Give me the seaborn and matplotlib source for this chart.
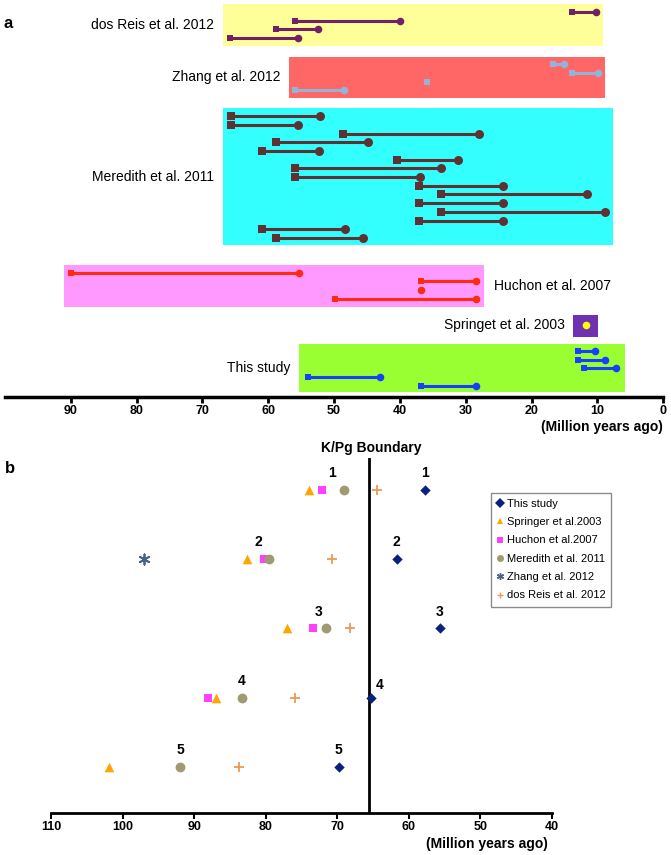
import numpy as np
import pandas as pd
import seaborn as sns
import matplotlib.pyplot as plt
from matplotlib.patches import Rectangle
from matplotlib.lines import Line2D

# ---- panel a: divergence time ranges (Million years ago) ----
# older bound is drawn as a square, younger bound as a circle, one row per estimate
dosreis_rows = [0, 1, 2, 3]
dosreis_old = [13.8, 56.0, 58.9, 65.8]
dosreis_young = [10.2, 40.0, 52.5, 55.5]

zhang_rows = [6, 7, 8, 9]
zhang_old = [16.8, 13.8, 35.9, 55.9]
zhang_young = [15.0, 9.9, np.nan, 48.5]

meredith_rows = list(range(12, 27))
meredith_old = [65.7, 65.7, 48.7, 58.8, 61.0, 40.4, 55.9, 55.9, 37.1, 33.7, 37.1, 33.7, 37.1, 61.0, 58.8]
meredith_young = [52.2, 55.5, 28.0, 44.9, 52.3, 31.2, 33.8, 36.9, 24.4, 11.6, 24.4, 8.8, 24.4, 48.3, 45.6]

huchon_rows = [30, 31, 32, 33]
huchon_old = [90.0, 36.8, np.nan, 49.9]
huchon_young = [55.3, 28.4, 36.8, 28.4]

springer_rows = [36]
springer_old = [np.nan]
springer_young = [11.8]

study_rows = [39, 40, 41, 42, 43]
study_old = [12.9, 12.9, 12.0, 54.0, 36.8]
study_young = [10.4, 8.9, 7.2, 43.0, 28.4]

# ---- panel b: node ages compared across studies ----
node_ids = [1, 2, 3, 4, 5]
this_study_b = [57.7, 61.7, 55.7, 65.3, 69.8]
springer_b = [74.0, 82.6, 77.1, 87.0, 102.0]
huchon_b = [72.1, 80.2, 73.4, 88.1, np.nan]
meredith_b = [69.1, 79.6, 71.6, 83.4, 92.0]
zhang_b = [np.nan, 97.0, np.nan, np.nan, np.nan]
dosreis_b = [64.4, 70.8, 68.2, 75.9, 83.8]
node_label_x = [70.8, 81.1, 72.6, 83.4, 92.0]
kpg_boundary = 65.6

sns.set_theme(style='white')
plt.rcParams['font.family'] = ['Liberation Sans', 'DejaVu Sans']
plt.rcParams['text.color'] = 'black'
plt.rcParams['xtick.color'] = 'black'

W, H = 671, 855
fig = plt.figure(figsize=(W / 100, H / 100), dpi=100)

# ---------------- panel a ----------------
ax_a = fig.add_axes([5 / W, 1 - 396.7 / H, (663.2 - 5) / W, 396.7 / H])
ax_a.set_xlim(100, 0)
ax_a.set_ylim(44.27, -1.38)

panel_a = [
    # label, rows, old, young, box colour, mark colour, label side, x pad, y pad
    ('dos Reis et al. 2012', dosreis_rows, dosreis_old, dosreis_young, '#ffff99', '#722068', 'left', 1.1, (0.92, 0.9)),
    ('Zhang et al. 2012', zhang_rows, zhang_old, zhang_young, '#ff6666', '#95b3d7', 'left', 1.0, (0.8, 0.86)),
    ('Meredith et al. 2011', meredith_rows, meredith_old, meredith_young, '#33ffff', '#5e3232', 'left', 1.2, (1.0, 0.8)),
    ('Huchon et al. 2007', huchon_rows, huchon_old, huchon_young, '#ff99ff', '#ff2a10', 'right', 1.1, (0.9, 0.98)),
    ('Springet et al. 2003', springer_rows, springer_old, springer_young, '#7030b0', '#ffff00', 'left', 1.9, (1.1, 1.36)),
    ('This study', study_rows, study_old, study_young, '#99ff33', '#1540ff', 'left', 1.4, (0.85, 0.73)),
]

for label, rows, old, young, box_c, mark_c, side, xpad, ypad in panel_a:
    vals = np.array(old + young, dtype=float)
    hi, lo = np.nanmax(vals) + xpad, np.nanmin(vals) - xpad
    top, bot = min(rows) - ypad[0], max(rows) + ypad[1]
    ax_a.add_patch(Rectangle((lo, top), hi - lo, bot - top, facecolor=box_c, edgecolor='none', zorder=1))
    ax_a.hlines(rows, old, young, color=mark_c, lw=2.2, zorder=2)
    ms = 36 if label == 'Meredith et al. 2011' else 24
    sns.scatterplot(x=old, y=rows, ax=ax_a, marker='s', color=mark_c, s=ms, linewidth=0, zorder=3)
    sns.scatterplot(x=young, y=rows, ax=ax_a, marker='o', color=mark_c, s=ms + 6, linewidth=0, zorder=3)
    ymid = (min(rows) + max(rows)) / 2
    if side == 'left':
        ax_a.text(hi + 1.3, ymid, label, ha='right', va='center', fontsize=10)
    else:
        ax_a.text(lo - 1.6, ymid, label, ha='left', va='center', fontsize=10)

for s in ['top', 'left', 'right']:
    ax_a.spines[s].set_visible(False)
ax_a.spines['bottom'].set_linewidth(2.5)
ax_a.spines['bottom'].set_color('black')
ax_a.set_xticks(range(0, 100, 10))
ax_a.set_yticks([])
ax_a.tick_params(axis='x', bottom=True, direction='out', length=4, width=2, labelsize=9, pad=2)
for t in ax_a.get_xticklabels():
    t.set_fontweight('bold')
ax_a.set_xlabel('')
ax_a.set_ylabel('')
fig.text(663 / W, 1 - 427 / H, '(Million years ago)', ha='right', va='center', fontsize=10, fontweight='bold')
fig.text(4 / W, 1 - 24 / H, 'a', ha='left', va='center', fontsize=12, fontweight='bold')

# ---------------- panel b ----------------
ax_b = fig.add_axes([51.3 / W, 1 - 812.7 / H, (552 - 51.3) / W, (812.7 - 458) / H])
ax_b.set_xlim(110, 40)
ax_b.set_ylim(5.66, 0.54)

panel_b = [
    ('This study', this_study_b, 'D', '#0a2080', 28),
    ('Springer et al.2003', springer_b, '^', '#ffa500', 48),
    ('Huchon et al.2007', huchon_b, 's', '#ff40ff', 40),
    ('Meredith et al. 2011', meredith_b, 'o', '#a09a72', 50),
    ('Zhang et al. 2012', zhang_b, (6, 2, 0), '#4a6285', 55),
    ('dos Reis et al. 2012', dosreis_b, '+', '#eb9a55', 60),
]

ax_b.axvline(kpg_boundary, color='black', lw=2, zorder=1)
for label, vals, mk, col, size in panel_b:
    df = pd.DataFrame({'age': vals, 'node': node_ids}).dropna()
    if mk in ('+', (6, 2, 0)):
        sns.scatterplot(data=df, x='age', y='node', ax=ax_b, marker=mk, color=col, s=size,
                        linewidth=1.3, zorder=3)
    else:
        sns.scatterplot(data=df, x='age', y='node', ax=ax_b, marker=mk, color=col, s=size,
                        linewidth=0, zorder=3)

for n, lx, rx in zip(node_ids, node_label_x, this_study_b):
    ax_b.annotate(str(n), (lx, n), xytext=(0, 7), textcoords='offset points',
                  ha='center', va='bottom', fontsize=10, fontweight='bold')
    off = (6, 4) if n == 4 else (0, 7)
    ax_b.annotate(str(n), (rx, n), xytext=off, textcoords='offset points',
                  ha='center', va='bottom', fontsize=10, fontweight='bold')

ax_b.annotate('K/Pg Boundary', (kpg_boundary, 1), xycoords=('data', 'axes fraction'),
              xytext=(2, 2), textcoords='offset points', ha='center', va='bottom',
              fontsize=10, fontweight='bold')

for s in ['top', 'left', 'right']:
    ax_b.spines[s].set_visible(False)
ax_b.spines['bottom'].set_linewidth(2)
ax_b.spines['bottom'].set_color('black')
ax_b.set_xticks(range(40, 111, 10))
ax_b.set_yticks([])
ax_b.tick_params(axis='x', bottom=True, direction='out', length=4, width=1.5, labelsize=9, pad=2)
for t in ax_b.get_xticklabels():
    t.set_fontweight('bold')
ax_b.set_xlabel('')
ax_b.set_ylabel('')
fig.text(548 / W, 1 - 844 / H, '(Million years ago)', ha='right', va='center', fontsize=10, fontweight='bold')
fig.text(5 / W, 1 - 468 / H, 'b', ha='left', va='center', fontsize=12, fontweight='bold')

handles = [Line2D([], [], linestyle='none', marker=mk, color=col, markersize=5,
                  markeredgewidth=1.0 if mk in ('+', (6, 2, 0)) else 0)
           for _, _, mk, col, _ in panel_b]
labels = [p[0] for p in panel_b]
leg = fig.legend(handles, labels, loc='upper left', bbox_to_anchor=(491 / W, 1 - 492.7 / H),
                 frameon=True, fancybox=False, edgecolor='#707070', fontsize=8,
                 handlelength=0.6, handletextpad=0.25, labelspacing=0.75, borderpad=0.55,
                 borderaxespad=0)
leg.get_frame().set_linewidth(1)

fig.savefig('out.png', dpi=100)
